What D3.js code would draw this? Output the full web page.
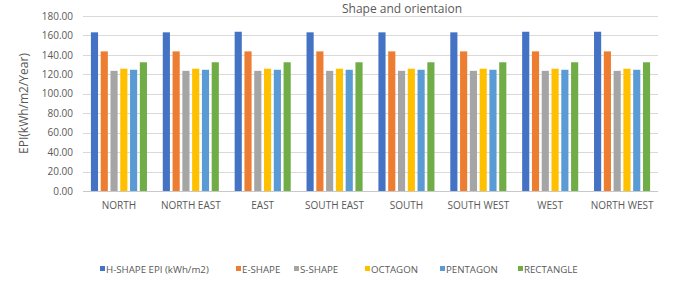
<!DOCTYPE html>
<html lang="en">
<head>
    <meta charset="UTF-8">
    <title>Shape and orientaion</title>
    <style>
        body {
            margin: 0;
            background: #fff;
        }
        svg text {
            font-family: "Open Sans", "Liberation Sans", sans-serif;
            fill: #595959;
        }
        .grid line {
            stroke: #d9d9d9;
            stroke-width: 1;
        }
    </style>
    <script src="https://d3js.org/d3.v7.min.js"></script>
</head>
<body>
    <div id="chart"></div>
    <script>
        const orientations = ['NORTH', 'NORTH EAST', 'EAST', 'SOUTH EAST', 'SOUTH', 'SOUTH WEST', 'WEST', 'NORTH WEST'];
        const seriesNames = ['H-SHAPE EPI (kWh/m2)', 'E-SHAPE', 'S-SHAPE', 'OCTAGON', 'PENTAGON', 'RECTANGLE'];
        const hShape = [163.2, 163.2, 163.8, 163.2, 163.2, 163.2, 163.8, 163.8];
        const eShape = [143.6, 143.6, 143.6, 143.6, 143.6, 143.6, 143.6, 143.6];
        const sShape = [123.6, 123.6, 123.6, 123.6, 123.6, 123.6, 123.6, 123.6];
        const octagon = [125.8, 125.8, 125.8, 125.8, 125.8, 125.8, 125.8, 125.8];
        const pentagon = [124.7, 124.7, 124.7, 124.7, 124.7, 124.7, 124.7, 124.7];
        const rectangle = [132.4, 132.4, 132.4, 132.4, 132.4, 132.4, 132.4, 132.4];
        const yTicks = [0, 20, 40, 60, 80, 100, 120, 140, 160, 180];
        const colors = ['#4472C4', '#ED7D31', '#A5A5A5', '#FFC000', '#5B9BD5', '#70AD47'];

        const allSeries = [hShape, eShape, sShape, octagon, pentagon, rectangle];

        const width = 676;
        const height = 283;
        const margin = {top: 16, right: 18, bottom: 92, left: 83};

        const svg = d3.select('#chart')
            .append('svg')
            .attr('width', width)
            .attr('height', height);

        const x0 = d3.scaleBand()
            .domain(orientations)
            .range([margin.left, width - margin.right])
            .paddingInner(0.22)
            .paddingOuter(0.11);

        const x1 = d3.scaleBand()
            .domain(d3.range(seriesNames.length))
            .range([0, x0.bandwidth()])
            .paddingInner(0.27);

        const y = d3.scaleLinear()
            .domain([0, 180])
            .range([height - margin.bottom, margin.top]);

        // gridlines
        svg.append('g')
            .attr('class', 'grid')
            .selectAll('line')
            .data(yTicks)
            .join('line')
            .attr('x1', margin.left)
            .attr('x2', width - margin.right)
            .attr('y1', d => Math.round(y(d)) + 0.5)
            .attr('y2', d => Math.round(y(d)) + 0.5);

        // y axis labels
        const yAxis = d3.axisLeft(y)
            .tickValues(yTicks)
            .tickSize(0)
            .tickPadding(10)
            .tickFormat(d3.format('.2f'));

        svg.append('g')
            .attr('transform', `translate(${margin.left},0)`)
            .call(yAxis)
            .call(g => g.select('.domain').remove())
            .selectAll('text')
            .style('font-size', '10px');

        // bars
        const groups = svg.append('g')
            .selectAll('g')
            .data(orientations)
            .join('g')
            .attr('transform', d => `translate(${x0(d)},0)`);

        groups.selectAll('rect')
            .data((d, i) => allSeries.map((s, k) => ({k: k, v: s[i]})))
            .join('rect')
            .attr('x', d => x1(d.k))
            .attr('width', x1.bandwidth())
            .attr('y', d => y(d.v))
            .attr('height', d => y(0) - y(d.v))
            .attr('fill', d => colors[d.k]);

        // baseline
        svg.append('line')
            .attr('x1', margin.left)
            .attr('x2', width - margin.right)
            .attr('y1', Math.round(y(0)) + 0.5)
            .attr('y2', Math.round(y(0)) + 0.5)
            .attr('stroke', '#c8c8c8');

        // x axis labels
        const xAxis = d3.axisBottom(x0).tickSize(0).tickPadding(11);
        svg.append('g')
            .attr('transform', `translate(0,${y(0)})`)
            .call(xAxis)
            .call(g => g.select('.domain').remove())
            .selectAll('text')
            .style('font-size', '10px');

        // y axis title
        svg.append('text')
            .attr('transform', `translate(28,${(margin.top + y(0)) / 2}) rotate(-90)`)
            .attr('text-anchor', 'middle')
            .style('font-size', '12px')
            .text('EPI(kWh/m2/Year)');

        // chart title
        svg.append('text')
            .attr('x', 342)
            .attr('y', 13)
            .style('font-size', '12px')
            .text('Shape and orientaion');

        // legend, item starts as laid out in the reference
        const legendX = [100, 236, 294, 365, 440, 518];
        const legend = svg.append('g').attr('transform', 'translate(0,269)');
        const item = legend.selectAll('g')
            .data(seriesNames)
            .join('g')
            .attr('transform', (d, k) => `translate(${legendX[k]},0)`);
        item.append('rect')
            .attr('x', 0)
            .attr('y', -3)
            .attr('width', 5)
            .attr('height', 5)
            .attr('fill', (d, k) => colors[k]);
        item.append('text')
            .attr('x', 6)
            .attr('y', 3.5)
            .style('font-size', '9.7px')
            .text(d => d);
    </script>
</body>
</html>
